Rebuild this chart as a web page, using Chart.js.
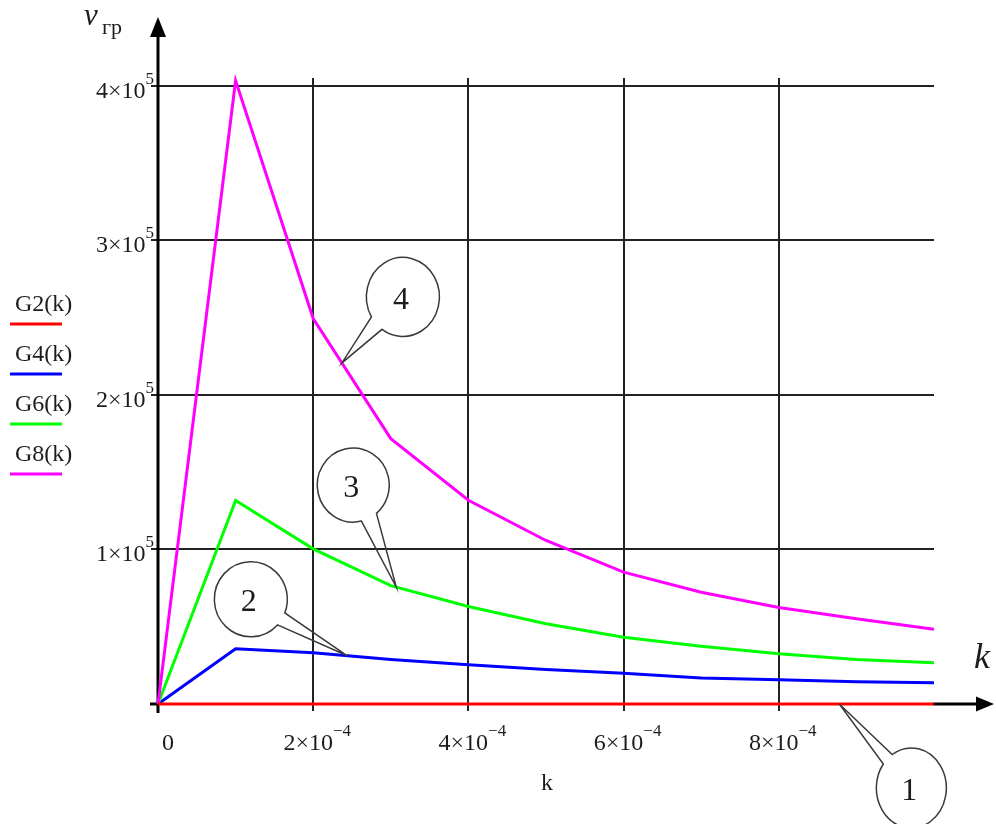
<!DOCTYPE html>
<html>
<head>
<meta charset="utf-8">
<script src="https://cdn.jsdelivr.net/npm/chart.js@4/dist/chart.umd.min.js"></script>
<style>
  html, body { margin: 0; padding: 0; background: #fff; }
  #wrap { width: 996px; height: 824px; position: relative; }
</style>
</head>
<body>
<div id="wrap"><canvas id="c"></canvas></div>
<script>
// k values and the four group-velocity curves
const kValues = [0, 1e-4, 2e-4, 3e-4, 4e-4, 5e-4, 6e-4, 7e-4, 8e-4, 9e-4, 1e-3];
const g2 = [0, 0, 0, 0, 0, 0, 0, 0, 0, 0, 0];
const g4 = [0, 35700, 33100, 28800, 25400, 22300, 19900, 16900, 15700, 14400, 13700];
const g6 = [0, 131600, 100400, 76600, 63100, 51900, 43200, 37400, 32500, 28800, 26700];
const g8 = [0, 403300, 249400, 171700, 131800, 105800, 85300, 72300, 62400, 55100, 48400];

const seriesLabels = ['G2(k)', 'G4(k)', 'G6(k)', 'G8(k)'];
const seriesColors = ['#ff0000', '#0000ff', '#00ff00', '#ff00ff'];

// grid / tick positions and their labels (mantissa + exponent)
const xTicks = [0, 2e-4, 4e-4, 6e-4, 8e-4];
const xTickMain = ['0', '2×10', '4×10', '6×10', '8×10'];
const xTickExp = ['', '−4', '−4', '−4', '−4'];
const yTicks = [0, 1e5, 2e5, 3e5, 4e5];
const yTickMain = ['', '1×10', '2×10', '3×10', '4×10'];
const yTickExp = ['', '5', '5', '5', '5'];

// numbered callouts: which curve, and where on it the pointer lands
const calloutNums = ['1', '2', '3', '4'];
const calloutSeries = [0, 1, 2, 3];
const calloutK = [8.78e-4, 2.44e-4, 3.07e-4, 2.37e-4];

const series = [g2, g4, g6, g8];
const FONT = '"Liberation Serif", "Times New Roman", serif';
const TEXT = '#1c1c1c';

function toPoints(vals) { return kValues.map((k, i) => ({ x: k, y: vals[i] })); }

// circle geometry for each callout, relative to the pointer tip (pixels)
const calloutShape = [
  { dx: 72,    dy: 84,    rx: 35,   ry: 40,   b1: [-28, -24], b2: [-20, -35] },
  { dx: -96.5, dy: -56.5, rx: 36.5, ry: 37.5, b1: [33.5, 13.5], b2: [26.5, 25.5] },
  { dx: -43,   dy: -102,  rx: 36,   ry: 37,   b1: [23, 28],   b2: [8, 35] },
  { dx: 61,    dy: -66,   rx: 36.5, ry: 39.5, b1: [-33, 21],  b2: [-20, 31] }
];

function valueAt(vals, k) {
  for (let i = 0; i < kValues.length - 1; i++) {
    if (k >= kValues[i] && k <= kValues[i + 1]) {
      const t = (k - kValues[i]) / (kValues[i + 1] - kValues[i]);
      return vals[i] + t * (vals[i + 1] - vals[i]);
    }
  }
  return vals[vals.length - 1];
}

const decorations = {
  id: 'decorations',
  beforeDatasetsDraw(chart) {
    const ctx = chart.ctx;
    const xs = chart.scales.x, ys = chart.scales.y;
    const x0 = xs.getPixelForValue(0), y0 = ys.getPixelForValue(0);
    const xr = chart.chartArea.right;
    ctx.save();
    ctx.strokeStyle = '#000';
    ctx.fillStyle = '#000';
    ctx.lineWidth = 3;
    // vertical axis with arrow
    ctx.beginPath();
    ctx.moveTo(x0, y0 + 9);
    ctx.lineTo(x0, 34);
    ctx.stroke();
    ctx.beginPath();
    ctx.moveTo(x0, 17);
    ctx.lineTo(x0 - 8, 37);
    ctx.lineTo(x0 + 8, 37);
    ctx.closePath();
    ctx.fill();
    // horizontal axis: short stub left of origin, then past the plot to the arrow
    ctx.beginPath();
    ctx.moveTo(x0 - 8, y0);
    ctx.lineTo(x0, y0);
    ctx.moveTo(xr - 1, y0);
    ctx.lineTo(978, y0);
    ctx.stroke();
    ctx.beginPath();
    ctx.moveTo(994, y0);
    ctx.lineTo(976, y0 - 7.5);
    ctx.lineTo(976, y0 + 7.5);
    ctx.closePath();
    ctx.fill();
    ctx.restore();
  },
  afterDraw(chart) {
    const ctx = chart.ctx;
    const xs = chart.scales.x, ys = chart.scales.y;
    const y0 = ys.getPixelForValue(0);
    ctx.save();
    ctx.fillStyle = TEXT;
    ctx.textBaseline = 'alphabetic';

    // y tick labels
    yTicks.forEach((v, i) => {
      if (!yTickMain[i]) return;
      const py = ys.getPixelForValue(v);
      ctx.font = '17px ' + FONT;
      const ew = ctx.measureText(yTickExp[i]).width;
      ctx.textAlign = 'left';
      ctx.fillText(yTickExp[i], 154 - ew, py - 2);
      ctx.font = '24px ' + FONT;
      ctx.textAlign = 'right';
      ctx.fillText(yTickMain[i], 154 - ew, py + 12);
    });

    // x tick labels
    xTicks.forEach((v, i) => {
      const px = xs.getPixelForValue(v);
      ctx.font = '24px ' + FONT;
      const mw = ctx.measureText(xTickMain[i]).width;
      ctx.font = '17px ' + FONT;
      const ew = ctx.measureText(xTickExp[i]).width;
      const cx = px + (xTickExp[i] ? 4 : 10);
      const left = cx - (mw + ew) / 2;
      ctx.textAlign = 'left';
      ctx.font = '24px ' + FONT;
      ctx.fillText(xTickMain[i], left, y0 + 45.5);
      ctx.font = '17px ' + FONT;
      ctx.fillText(xTickExp[i], left + mw, y0 + 31.5);
    });

    // axis titles
    ctx.textAlign = 'center';
    ctx.font = '24px ' + FONT;
    ctx.fillText('k', 547, 790);
    ctx.textAlign = 'left';
    ctx.font = 'italic 36px ' + FONT;
    ctx.fillText('k', 974, 668);
    ctx.font = 'italic 31px ' + FONT;
    ctx.fillText('v', 84, 25);
    ctx.font = '22px ' + FONT;
    ctx.fillText('гр', 102, 34);

    // legend on the left: name above a short colour stroke
    seriesLabels.forEach((name, i) => {
      const ly = 324 + 50 * i;
      ctx.fillStyle = TEXT;
      ctx.font = '24px ' + FONT;
      ctx.textAlign = 'left';
      ctx.fillText(name, 15, ly - 13);
      ctx.strokeStyle = seriesColors[i];
      ctx.lineWidth = 3;
      ctx.beginPath();
      ctx.moveTo(10, ly);
      ctx.lineTo(62, ly);
      ctx.stroke();
    });

    // numbered callouts
    calloutNums.forEach((num, i) => {
      const vals = series[calloutSeries[i]];
      const k = calloutK[i];
      const tx = xs.getPixelForValue(k);
      const ty = ys.getPixelForValue(valueAt(vals, k));
      const s = calloutShape[i];
      const cx = tx + s.dx, cy = ty + s.dy;
      const t1 = Math.atan2(s.b1[1] / s.ry, s.b1[0] / s.rx);
      const t2 = Math.atan2(s.b2[1] / s.ry, s.b2[0] / s.rx);
      const a = Math.min(t1, t2), b = Math.max(t1, t2);
      ctx.strokeStyle = '#3a3a3a';
      ctx.lineWidth = 1.5;
      ctx.beginPath();
      ctx.ellipse(cx, cy, s.rx, s.ry, 0, b, a + Math.PI * 2, false);
      ctx.lineTo(tx, ty);
      ctx.closePath();
      ctx.stroke();
      ctx.fillStyle = TEXT;
      ctx.font = '32px ' + FONT;
      ctx.textAlign = 'center';
      ctx.textBaseline = 'alphabetic';
      ctx.fillText(num, cx - 2, cy + 12);
    });
    ctx.restore();
  }
};

new Chart(document.getElementById('c'), {
  type: 'line',
  data: {
    datasets: seriesLabels.map((name, i) => ({
      label: name,
      data: toPoints(series[i]),
      borderColor: seriesColors[i],
      backgroundColor: seriesColors[i],
      borderWidth: 3,
      pointRadius: 0,
      tension: 0,
      fill: false,
      clip: false,
      order: i === 0 ? 0 : 4 - i
    }))
  },
  options: {
    responsive: true,
    maintainAspectRatio: false,
    animation: false,
    events: [],
    layout: { padding: { left: 148, right: 62, top: 78, bottom: 110 } },
    plugins: { legend: { display: false }, tooltip: { enabled: false } },
    scales: {
      x: {
        type: 'linear',
        min: 0,
        max: 1e-3,
        afterBuildTicks: s => { s.ticks = xTicks.map(v => ({ value: v })); },
        afterFit: s => { s.height = 10; },
        ticks: { display: false },
        border: { display: false },
        grid: { color: '#222', lineWidth: 2, drawTicks: true, tickLength: 7 }
      },
      y: {
        type: 'linear',
        min: 0,
        max: 405000,
        afterBuildTicks: s => { s.ticks = yTicks.map(v => ({ value: v })); },
        afterFit: s => { s.width = 10; },
        ticks: { display: false },
        border: { display: false },
        grid: { color: '#222', lineWidth: 2, drawTicks: true, tickLength: 7 }
      }
    }
  },
  plugins: [decorations]
});
</script>
</body>
</html>
